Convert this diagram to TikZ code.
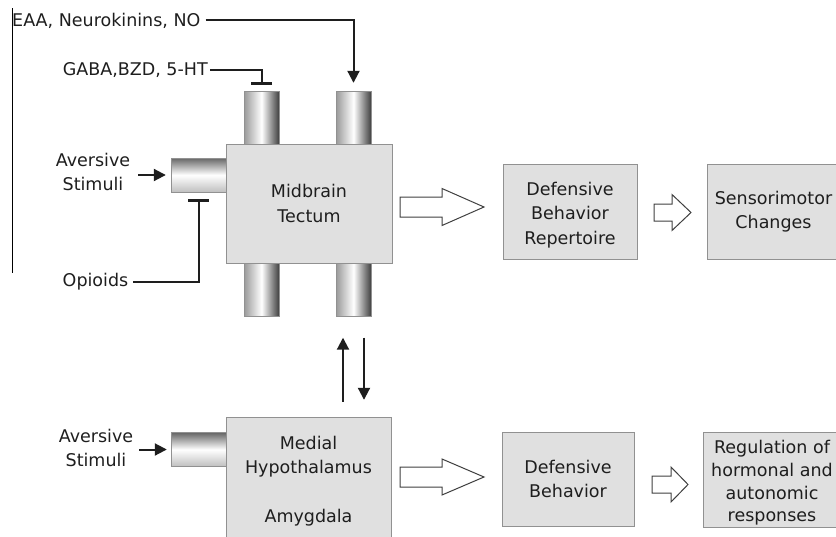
\documentclass[tikz,border=0pt]{standalone}
\usepackage{fontspec}
\setmainfont{DejaVu Sans}
\usetikzlibrary{arrows.meta, calc, math}
\definecolor{qfill}{RGB}{224,224,224}
\definecolor{qedge}{RGB}{145,145,145}
\definecolor{qink}{RGB}{30,30,30}
\newcommand{\figfont}{\fontsize{17.5pt}{24.5pt}\selectfont}
% hollow block arrow: tail, tip, half shaft, half head, head length
\newcommand{\blockarr}[5]{%
  \draw[fat] ($(#1)+(0,-#3)$) -- ($(#2)+(-#5,-#3)$) -- ($(#2)+(-#5,-#4)$) -- (#2)
    -- ($(#2)+(-#5,#4)$) -- ($(#2)+(-#5,#3)$) -- ($(#1)+(0,#3)$) -- cycle;}

\tikzset{
  box/.style={draw=qedge, fill=qfill, text=qink, align=center, inner sep=0pt, font=\figfont},
  vtube/.style={draw=qedge, left color=black!40, right color=black!75, middle color=white,
    minimum width=35pt, minimum height=53pt, inner sep=0pt},
  htube/.style={draw=qedge, top color=black!60, bottom color=black!25, middle color=white,
    minimum width=55pt, minimum height=34pt, inner sep=0pt},
  lbl/.style={text=qink, align=center, inner sep=0pt, font=\figfont},
  act/.style={qink, line width=2pt, -{Triangle[length=12pt,width=12pt]}},
  inh/.style={qink, line width=2pt, -{Bar[width=21pt,line width=2.5pt]}},
  fat/.style={draw=qink!85, fill=white, line width=1pt},
}

\begin{document}
\begin{tikzpicture}[x=1pt, y=-1pt]

\clip (0,0) rectangle (836,536);

\tikzmath{
\tx = 261.5;  % left tube column
\ty = 353.5;  % right tube column
}

% boxes
\node[box, minimum width=166pt, minimum height=119pt] (mid) at (309,203.5) {Midbrain\\Tectum};
\node[box, minimum width=165pt, minimum height=128pt] (hyp) at (308.5,481) {Medial\\Hypothalamus\\[24.5pt]Amygdala};
\node[box, minimum width=134pt, minimum height=95pt] (rep) at (570,211.5) {\rule{0pt}{20pt}Defensive\\Behavior\\Repertoire};
\node[box, minimum width=133pt, minimum height=95pt] (sens) at (773.5,211.5) {Sensorimotor\\Changes};
\node[box, minimum width=132pt, minimum height=94pt] (def) at (568,479) {Defensive\\Behavior};
\node[box, minimum width=138pt, minimum height=95pt, font=\fontsize{17.5pt}{22.7pt}\selectfont] (reg) at (772,479.5)
  {\rule{0pt}{20pt}Regulation of\\hormonal and\\autonomic\\responses};

% tubes
\node[vtube] (t1) at (\tx,117.5) {};
\node[vtube] (t2) at (\ty,117.5) {};
\node[vtube] (b1) at (\tx,290) {};
\node[vtube] (b2) at (\ty,290) {};
\node[htube] (av1) at (198.5,175) {};
\node[htube] (av2) at (198.5,449.5) {};

% labels
\node[lbl, anchor=base west] (eaa) at (12,26) {EAA, Neurokinins, NO};
\node[lbl, anchor=base east] (gaba) at (208,75) {GABA,BZD, 5-HT};
\node[lbl] (avlab1) at (93,172) {Aversive\\Stimuli};
\node[lbl] (avlab2) at (96,448) {Aversive\\Stimuli};
\node[lbl] (opi) at (95.5,282) {Opioids};

% inputs
\draw[act, shorten <=5pt, shorten >=8pt] (eaa.east) -| (t2.north);
\draw[inh, shorten <=2pt, shorten >=6pt] (gaba.east) -| (t1.north);
\draw[inh, shorten <=5pt, shorten >=7pt] (opi.east) -| (av1.south);
\draw[act, shorten <=8pt, shorten >=5pt] (avlab1.east |- av1.west) -- (av1.west);
\draw[act, shorten <=6pt, shorten >=4pt] (avlab2.east |- av2.west) -- (av2.west);

% tectum <-> hypothalamus
\coordinate (up) at ([xshift=-10.5pt]b2.south);
\coordinate (dn) at ([xshift=10.5pt]b2.south);
\draw[act, shorten <=15pt, shorten >=21pt] (up |- hyp.north) -- (up);
\draw[act, shorten <=21pt, shorten >=17pt] (dn) -- (dn |- hyp.north);

% outputs
\coordinate (f1) at (400,207);
\coordinate (f1t) at (484,207);
\coordinate (f2) at (654,212.5);
\coordinate (f2t) at (691,212.5);
\coordinate (f3) at (400,477);
\coordinate (f3t) at (484,477);
\coordinate (f4) at (652,484.5);
\coordinate (f4t) at (688,484.5);
\blockarr{f1}{f1t}{10}{18.5}{42}
\blockarr{f2}{f2t}{8.5}{18}{19}
\blockarr{f3}{f3t}{10}{18}{42}
\blockarr{f4}{f4t}{8.5}{17.5}{17}

% frame edge
\draw[black, line width=1pt] (12,8) -- (12,273);

\end{tikzpicture}
\end{document}
